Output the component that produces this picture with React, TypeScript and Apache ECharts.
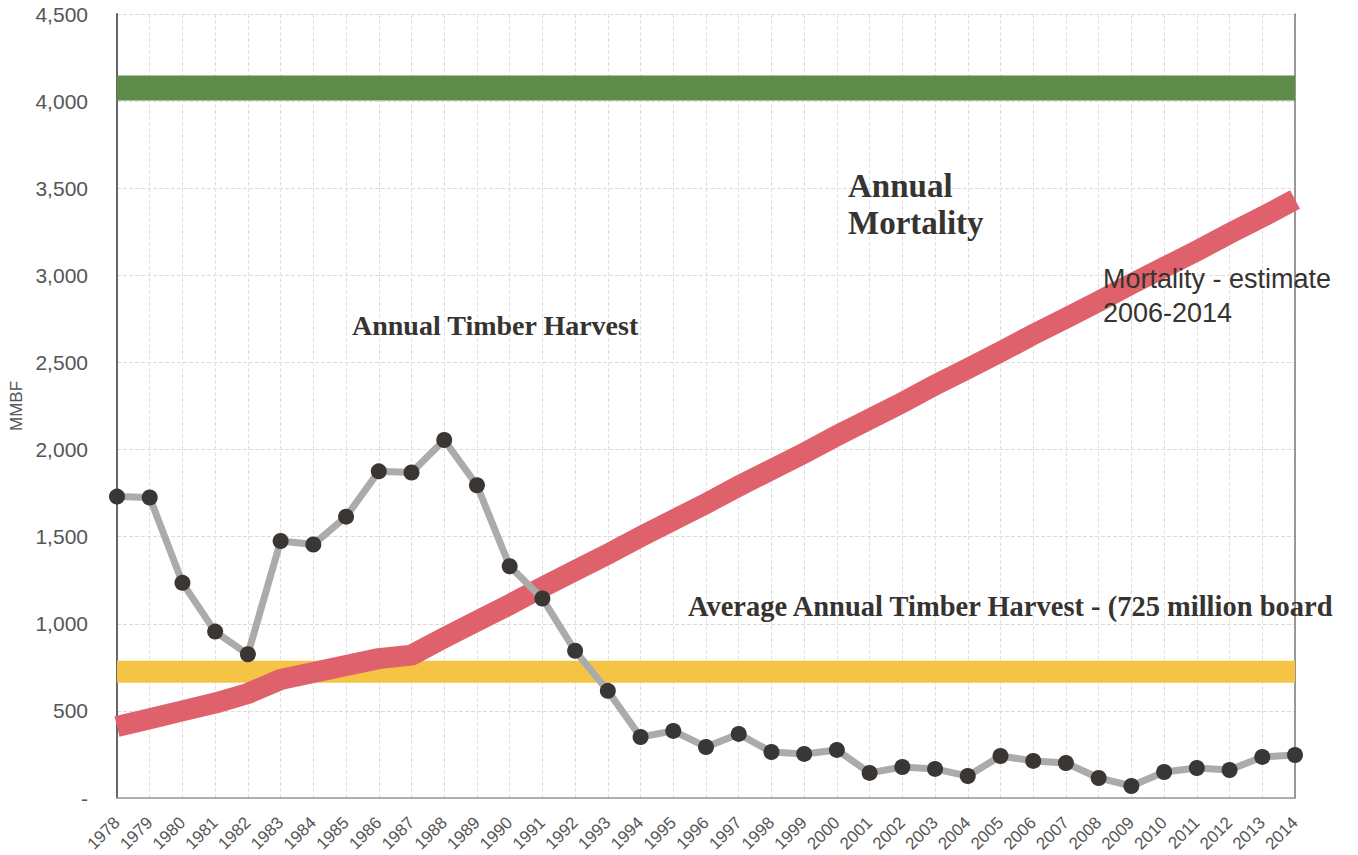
import React, { useEffect, useRef } from "react";
import * as echarts from "echarts";

const years = [
  "1978","1979","1980","1981","1982","1983","1984","1985","1986","1987",
  "1988","1989","1990","1991","1992","1993","1994","1995","1996","1997",
  "1998","1999","2000","2001","2002","2003","2004","2005","2006","2007",
  "2008","2009","2010","2011","2012","2013","2014",
];

const harvest = [
  1730, 1725, 1235, 955, 825, 1475, 1455, 1615, 1875, 1868,
  2055, 1795, 1330, 1145, 845, 615, 350, 385, 293, 368,
  264, 253, 276, 144, 178, 167, 126, 241, 213, 201,
  115, 69, 149, 172, 161, 236, 247,
];

const mortality = [
  410, 455, 500, 545, 600, 680, 720, 760, 800, 820,
  920, 1015, 1110, 1210, 1305, 1400, 1500, 1595, 1690, 1790,
  1885, 1980, 2080, 2175, 2270, 2370, 2465, 2560, 2660, 2755,
  2850, 2950, 3045, 3140, 3240, 3335, 3435,
];

const annualMortalityLevel = 4075;
const averageHarvestLevel = 725;

export default function App() {
  const ref = useRef<HTMLDivElement>(null);
  useEffect(() => {
    if (!ref.current) return;
    const chart = echarts.init(ref.current, null, { renderer: "svg" });
    const flat = (v: number) => years.map(() => v);
    const sans = '"Liberation Sans", Arial, sans-serif';
    const serif = '"Liberation Serif", "Times New Roman", serif';
    chart.setOption({
      animation: false,
      backgroundColor: "#ffffff",
      grid: {
        left: 117,
        right: 63,
        top: 14,
        bottom: 57,
        containLabel: false,
        outerBoundsMode: "none",
      },
      xAxis: [
        {
          type: "category",
          data: years,
          boundaryGap: false,
          axisLine: { show: true, lineStyle: { color: "#d6d6d6", width: 1 } },
          axisTick: { show: false },
          axisLabel: {
            interval: 0,
            rotate: 45,
            margin: 22,
            color: "#555",
            fontSize: 17,
            fontFamily: sans,
          },
          splitLine: {
            show: true,
            interval: 0,
            lineStyle: { color: "#e0e0e0", type: "dashed", width: 1 },
          },
        },
        {
          type: "category",
          data: years,
          boundaryGap: false,
          position: "top",
          axisLine: { show: true, lineStyle: { color: "#9a9a9a", width: 1.5 } },
          axisTick: { show: false },
          axisLabel: { show: false },
          splitLine: { show: false },
        },
      ],
      yAxis: [
        {
          type: "value",
          min: 0,
          max: 4500,
          interval: 500,
          name: "MMBF",
          nameLocation: "middle",
          nameGap: 92,
          nameTextStyle: { color: "#555", fontSize: 17, fontFamily: sans },
          axisLine: { show: true, lineStyle: { color: "#666", width: 2 } },
          axisTick: { show: false },
          axisLabel: {
            margin: 29,
            color: "#555",
            fontSize: 21,
            fontFamily: sans,
            formatter: (v: number) => (v === 0 ? "-" : v.toLocaleString("en-US")),
          },
          splitLine: {
            show: true,
            lineStyle: { color: "#dcdcdc", type: "dashed", width: 1 },
          },
        },
        {
          type: "value",
          min: 0,
          max: 4500,
          interval: 500,
          position: "right",
          axisLine: { show: true, lineStyle: { color: "#7a7a7a", width: 1.5 } },
          axisTick: { show: false },
          axisLabel: { show: false },
          splitLine: { show: false },
        },
      ],
      series: [
        {
          name: "Annual Mortality",
          type: "line",
          data: flat(annualMortalityLevel),
          showSymbol: false,
          symbol: "none",
          lineStyle: { color: "#5e8b4a", width: 25 },
          z: 2,
        },
        {
          name: "Average Annual Timber Harvest",
          type: "line",
          data: flat(averageHarvestLevel),
          showSymbol: false,
          symbol: "none",
          lineStyle: { color: "#f6c445", width: 22 },
          z: 2,
        },
        {
          name: "Mortality",
          type: "line",
          data: mortality,
          showSymbol: false,
          symbol: "none",
          lineStyle: { color: "#df616b", width: 21, join: "round" },
          z: 3,
        },
        {
          name: "Annual Timber Harvest",
          type: "line",
          data: harvest,
          symbol: "circle",
          symbolSize: 16,
          showSymbol: true,
          itemStyle: { color: "#3a3634" },
          lineStyle: { color: "#ababab", width: 7 },
          z: 4,
        },
      ],
      graphic: [
        {
          type: "text",
          x: 352,
          y: 325,
          style: {
            text: "Annual Timber Harvest",
            font: `bold 28px ${serif}`,
            fill: "#363330",
            verticalAlign: "middle",
          },
          z: 10,
        },
        {
          type: "text",
          x: 848,
          y: 204,
          style: {
            text: "Annual\nMortality",
            font: `bold 33px ${serif}`,
            lineHeight: 37,
            fill: "#363330",
            verticalAlign: "middle",
          },
          z: 10,
        },
        {
          type: "text",
          x: 1103,
          y: 296,
          style: {
            text: "Mortality - estimate\n2006-2014",
            font: `27px ${sans}`,
            lineHeight: 34,
            fill: "#363330",
            verticalAlign: "middle",
          },
          z: 10,
        },
        {
          type: "text",
          x: 688,
          y: 606,
          scaleX: 0.95,
          style: {
            text: "Average Annual Timber Harvest - (725 million board",
            font: `bold 30px ${serif}`,
            fill: "#363330",
            verticalAlign: "middle",
          },
          z: 10,
        },
      ],
    });
    return () => chart.dispose();
  }, []);
  return (
    <div
      ref={ref}
      style={{ position: "fixed", left: 0, top: 0, width: 1358, height: 855 }}
    />
  );
}
